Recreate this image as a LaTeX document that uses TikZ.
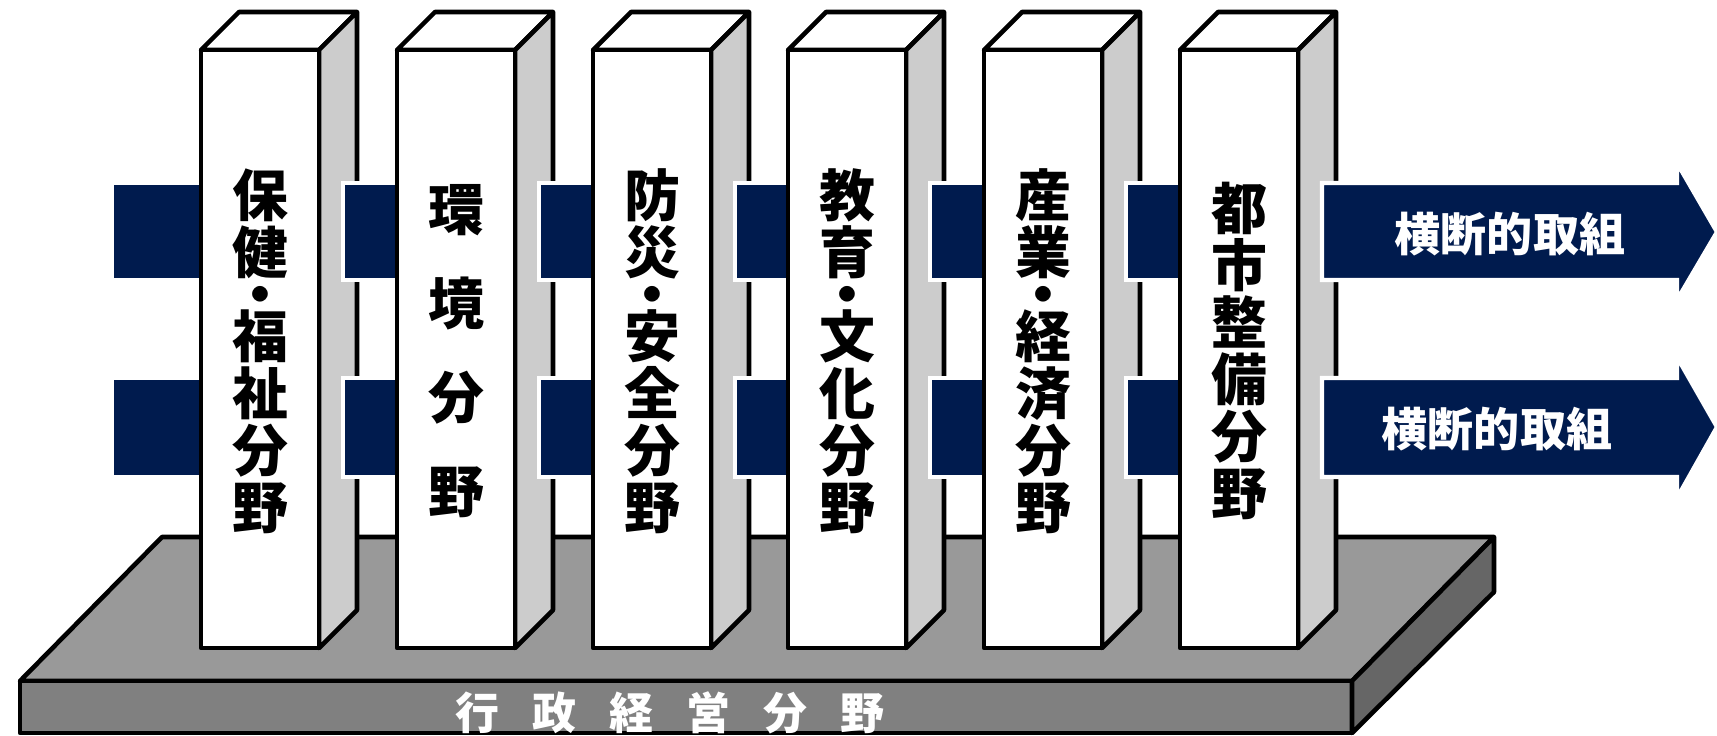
\documentclass[tikz,border=0pt]{standalone}
\usepackage{fontspec}
\setmainfont{Noto Sans CJK JP}
\definecolor{navy}{RGB}{0,27,78}
\definecolor{sidegray}{RGB}{204,204,204}
\definecolor{slabtop}{RGB}{153,153,153}
\definecolor{slabfront}{RGB}{128,128,128}
\definecolor{slabside}{RGB}{102,102,102}
\begin{document}
\begin{tikzpicture}[x=0.01cm,y=-0.01cm,
	face/.style={draw=black,line width=1.3pt,line join=round},
	band/.style={fill=navy,draw=white,line width=1.2pt},
	field/.style={font=\fontsize{15.9}{16.2}\selectfont\bfseries,align=center,inner sep=0pt},
	arrowtext/.style={text=white,font=\fontsize{13.1}{14}\selectfont\bfseries,inner sep=0pt},
	basetext/.style={text=white,font=\fontsize{12.5}{13}\selectfont\bfseries,inner sep=0pt}]
	\useasboundingbox (0,0) rectangle (1717,735);
	\draw[face,fill=slabtop] (162,537)--(1494,537)--(1352,681)--(20,681)--cycle;
	\draw[face,fill=slabfront] (20,681) rectangle (1352,733);
	\draw[face,fill=slabside] (1352,681)--(1494,537)--(1494,592)--(1352,733)--cycle;
	\node[basetext] (base) at (670,713) {\spaceskip=0.33cm\relax 行 政 経 営 分 野};
	\draw[band] (112,183) rectangle (221,280) (112,378) rectangle (221,477);
	\draw[face,fill=white] (201,50)--(239,12)--(357,12)--(319,50)--cycle;
	\draw[face,fill=sidegray] (319,50)--(357,12)--(357,610)--(319,648)--cycle;
	\draw[face,fill=white] (201,50) rectangle (319,648);
	\node[field] (p1) at (260,351) {保\\健\\[-0.15cm]・\\[-0.15cm]福\\祉\\分\\野};
	\draw[band] (343,183) rectangle (417,280) (343,378) rectangle (417,477);
	\draw[face,fill=white] (397,50)--(435,12)--(553,12)--(515,50)--cycle;
	\draw[face,fill=sidegray] (515,50)--(553,12)--(553,610)--(515,648)--cycle;
	\draw[face,fill=white] (397,50) rectangle (515,648);
	\node[field] (p2) at (456,351) {環\\[0.37cm]境\\[0.37cm]分\\[0.37cm]野};
	\draw[band] (539,183) rectangle (613,280) (539,378) rectangle (613,477);
	\draw[face,fill=white] (593,50)--(631,12)--(749,12)--(711,50)--cycle;
	\draw[face,fill=sidegray] (711,50)--(749,12)--(749,610)--(711,648)--cycle;
	\draw[face,fill=white] (593,50) rectangle (711,648);
	\node[field] (p3) at (652,351) {防\\災\\[-0.15cm]・\\[-0.15cm]安\\全\\分\\野};
	\draw[band] (735,183) rectangle (808,280) (735,378) rectangle (808,477);
	\draw[face,fill=white] (788,50)--(826,12)--(944,12)--(906,50)--cycle;
	\draw[face,fill=sidegray] (906,50)--(944,12)--(944,610)--(906,648)--cycle;
	\draw[face,fill=white] (788,50) rectangle (906,648);
	\node[field] (p4) at (847,351) {教\\育\\[-0.15cm]・\\[-0.15cm]文\\化\\分\\野};
	\draw[band] (930,183) rectangle (1004,280) (930,378) rectangle (1004,477);
	\draw[face,fill=white] (984,50)--(1022,12)--(1140,12)--(1102,50)--cycle;
	\draw[face,fill=sidegray] (1102,50)--(1140,12)--(1140,610)--(1102,648)--cycle;
	\draw[face,fill=white] (984,50) rectangle (1102,648);
	\node[field] (p5) at (1043,351) {産\\業\\[-0.15cm]・\\[-0.15cm]経\\済\\分\\野};
	\draw[band] (1126,183) rectangle (1200,280) (1126,378) rectangle (1200,477);
	\draw[face,fill=white] (1180,50)--(1218,12)--(1336,12)--(1298,50)--cycle;
	\draw[face,fill=sidegray] (1298,50)--(1336,12)--(1336,610)--(1298,648)--cycle;
	\draw[face,fill=white] (1180,50) rectangle (1298,648);
	\node[field] (p6) at (1239,351) {都\\市\\整\\備\\分\\野};
	\draw[band] (1322,183)--(1677,183)--(1677,163)--(1717,232)--(1677,300)--(1677,280)--(1322,280)--cycle;
	\draw[band] (1322,378)--(1677,378)--(1677,357)--(1717,427)--(1677,498)--(1677,477)--(1322,477)--cycle;
	\node[arrowtext] (a1) at (1510,234) {横断的取組};
	\node[arrowtext] (a2) at (1497,429) {横断的取組};
\end{tikzpicture}
\end{document}
